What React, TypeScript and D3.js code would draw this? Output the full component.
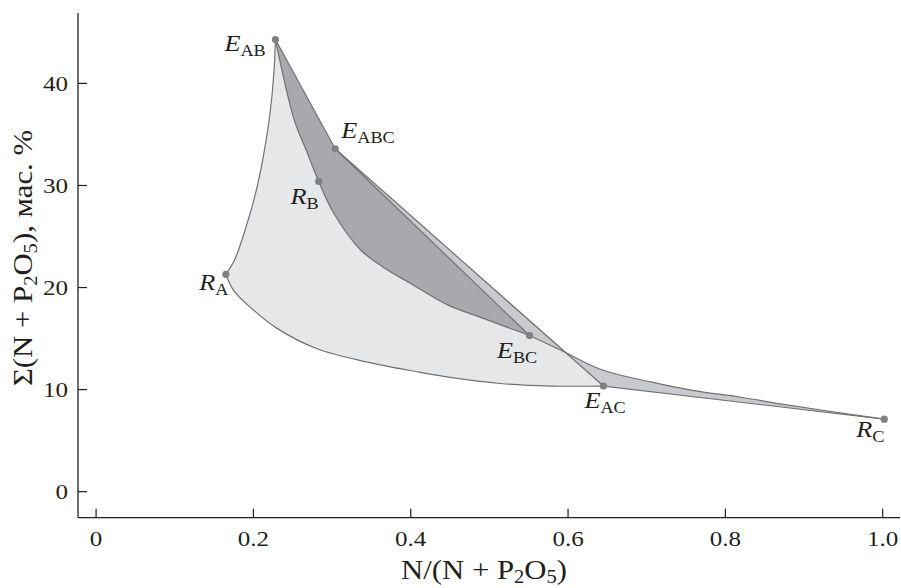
import * as d3 from 'd3';

// special points of the diagram
const pointX = [0.228, 0.304, 0.283, 0.165, 0.551, 0.645, 1.002];
const pointY = [44.3, 33.6, 30.4, 21.3, 15.3, 10.35, 7.1];
const pointLetter = ['E', 'E', 'R', 'R', 'E', 'E', 'R'];
const pointSub = ['AB', 'ABC', 'B', 'A', 'BC', 'AC', 'C'];

// intersection of E_ABC–E_AC with E_BC–R_C
const crossing: [number, number] = [0.599, 13.56];

// boundary curves
const curveEabRa: [number, number][] = [
  [0.228, 44.3], [0.226, 41], [0.221, 37], [0.213, 33], [0.202, 29], [0.188, 25.3], [0.176, 22.7], [0.165, 21.3],
];
const curveRaEac: [number, number][] = [
  [0.165, 21.3], [0.175, 19.7], [0.2, 17.8], [0.23, 16.0], [0.281, 14.0], [0.345, 12.7],
  [0.408, 11.75], [0.45, 11.2], [0.514, 10.6], [0.578, 10.35], [0.645, 10.35],
];
const curveEabEbc: [number, number][] = [
  [0.228, 44.3], [0.252, 36.4], [0.268, 33.3], [0.283, 30.4], [0.302, 27.3], [0.336, 23.7],
  [0.365, 22.0], [0.4, 20.4], [0.447, 18.3], [0.488, 17.1], [0.523, 16.1], [0.551, 15.3],
];
const curveEbcRc: [number, number][] = [
  [0.551, 15.3], [0.599, 13.56], [0.641, 12.0], [0.705, 10.75], [0.76, 9.9], [0.82, 9.25],
  [0.874, 8.55], [1.002, 7.1],
];

const xTicks = [0, 0.2, 0.4, 0.6, 0.8, 1.0];
const yTicks = [0, 10, 20, 30, 40];

const W = 901;
const H = 588;
const SX = 1.14; // the source font is wider than Times
const FONT = '"Liberation Serif", "Times New Roman", serif';
const INK = '#231f20';
const EDGE = '#707174';

const x = d3.scaleLinear().domain([-0.023, 1.022]).range([78, 900]);
const y = d3.scaleLinear().domain([-2.55, 46.9]).range([517.7, 13]);

const smooth = d3
  .line<[number, number]>()
  .x(d => x(d[0]))
  .y(d => y(d[1]))
  .curve(d3.curveCatmullRom.alpha(0.5));
const straight = d3
  .line<[number, number]>()
  .x(d => x(d[0]))
  .y(d => y(d[1]));

const pt = (i: number): [number, number] => [pointX[i], pointY[i]];
const rev = (a: [number, number][]) => a.slice().reverse();
const join = (...parts: string[]) =>
  parts.map((p, i) => (i === 0 ? p : p.replace(/^M/, 'L'))).join('') + 'Z';

// label offsets in px from the point: [dx, dy]
const labelOffset: [number, number][] = [
  [-51, 11], [6, -10.6], [-28.3, 22.3], [-26.7, 16], [-32.6, 22.6], [-19, 21.7], [-28, 17.7],
];

function Stretch({ tx, ty, rotate = 0, anchor = 'start', size, children }: any) {
  return (
    <g transform={`translate(${tx},${ty}) rotate(${rotate}) scale(${SX},1)`}>
      <text textAnchor={anchor} fontSize={size} fontFamily={FONT} fill={INK}>
        {children}
      </text>
    </g>
  );
}

export default function App() {
  const [eAB, eABC, , , eBC, eAC, rC] = [0, 1, 2, 3, 4, 5, 6].map(pt);
  const curveBcCross = curveEbcRc.slice(0, 2);
  const curveCrossRc = curveEbcRc.slice(1);

  const lightPath = join(
    smooth(curveEabRa)!,
    smooth(curveRaEac)!,
    straight([eAC, crossing])!,
    straight(rev(curveBcCross))!,
    smooth(rev(curveEabEbc))!,
  );
  const darkPath = join(straight([eAB, eABC, eBC])!, smooth(rev(curveEabEbc))!);
  const midPath1 = join(straight([eABC, crossing, eBC])!);
  const midPath2 = join(smooth(curveCrossRc)!, straight([rC, eAC, crossing])!);

  const edges = [
    smooth(curveEabRa)!,
    smooth(curveRaEac)!,
    smooth(curveEabEbc)!,
    straight([eAB, eABC])!,
    straight([eABC, eBC])!,
    straight([eABC, eAC])!,
    straight(curveBcCross)!,
    smooth(curveCrossRc)!,
    straight([eAC, rC])!,
  ];

  const x0 = x.range()[0];
  const yBase = y.range()[0];

  return (
    <svg width={W} height={H} style={{ position: 'absolute', left: 0, top: 0 }}>
      <rect width={W} height={H} fill="#fff" />

      <path d={lightPath} fill="#e6e7e9" />
      <path d={darkPath} fill="#a8a9ad" />
      <path d={midPath1} fill="#c9cacd" />
      <path d={midPath2} fill="#c9cacd" />
      {edges.map((d, i) => (
        <path key={i} d={d} fill="none" stroke={EDGE} strokeWidth={1.2} strokeLinejoin="round" />
      ))}

      {pointX.map((px, i) => (
        <circle key={i} cx={x(px)} cy={y(pointY[i])} r={3.6} fill="#7f8083" />
      ))}

      {pointX.map((px, i) => (
        <Stretch
          key={i}
          tx={x(px) + labelOffset[i][0]}
          ty={y(pointY[i]) + labelOffset[i][1]}
          size={23}
        >
          <tspan fontStyle="italic">{pointLetter[i]}</tspan>
          <tspan fontSize={16} dy={5}>{pointSub[i]}</tspan>
        </Stretch>
      ))}

      {/* axes */}
      <line x1={x0} x2={x0} y1={y.range()[1]} y2={yBase} stroke={INK} strokeWidth={1.3} />
      <line x1={x0} x2={x.range()[1]} y1={yBase} y2={yBase} stroke={INK} strokeWidth={1.3} />
      {yTicks.map(t => (
        <g key={t}>
          <line x1={x0} x2={x0 + 9} y1={y(t)} y2={y(t)} stroke={INK} strokeWidth={1.2} />
          <Stretch tx={x0 - 10} ty={y(t) + 7.2} anchor="end" size={22}>
            {t}
          </Stretch>
        </g>
      ))}
      {xTicks.map(t => (
        <g key={t}>
          <line x1={x(t)} x2={x(t)} y1={yBase} y2={yBase - 9} stroke={INK} strokeWidth={1.2} />
          <Stretch tx={x(t)} ty={546} anchor="middle" size={22}>
            {t === 0 ? '0' : d3.format('.1f')(t)}
          </Stretch>
        </g>
      ))}

      <Stretch tx={484} ty={579} anchor="middle" size={27}>
        N/(N + P<tspan fontSize={18} dy={4}>2</tspan>
        <tspan dy={-4}>O</tspan>
        <tspan fontSize={18} dy={4}>5</tspan>
        <tspan dy={-4}>)</tspan>
      </Stretch>
      <Stretch tx={32} ty={258} rotate={-90} anchor="middle" size={27}>
        Σ(N + P<tspan fontSize={18} dy={5}>2</tspan>
        <tspan dy={-5}>O</tspan>
        <tspan fontSize={18} dy={5}>5</tspan>
        <tspan dy={-5}>), мас. %</tspan>
      </Stretch>
    </svg>
  );
}
